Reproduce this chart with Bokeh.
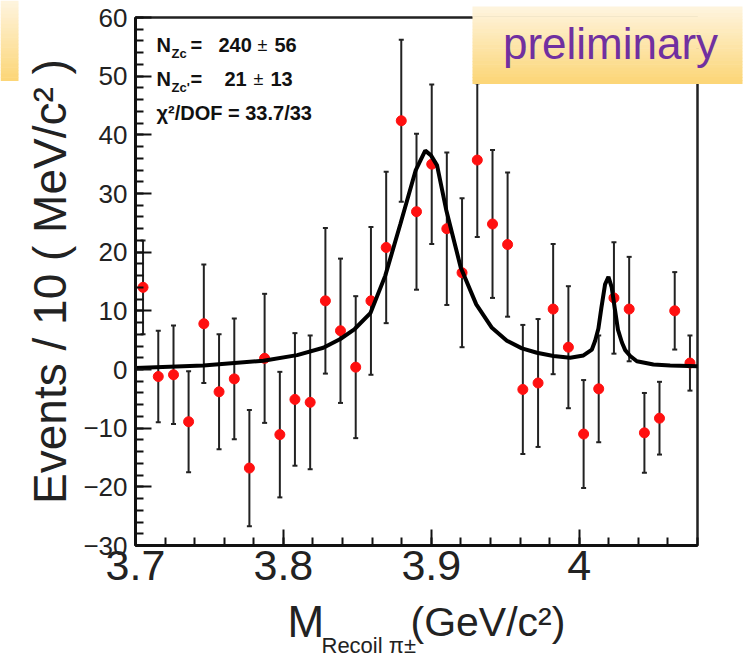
import numpy as np
from bokeh.plotting import figure
from bokeh.models import (ColumnDataSource, FixedTicker, Whisker, TeeHead, Label,
                          BoxAnnotation, Range1d)
from bokeh.embed import file_html
from bokeh.resources import INLINE

# ---------------- data ----------------
mass = [3.7051, 3.7154, 3.7257, 3.7359, 3.7462, 3.7565, 3.7668, 3.7770, 3.7873,
        3.7976, 3.8078, 3.8181, 3.8284, 3.8386, 3.8489, 3.8592, 3.8695, 3.8797,
        3.8900, 3.9003, 3.9105, 3.9208, 3.9311, 3.9414, 3.9516, 3.9619, 3.9722,
        3.9824, 3.9927, 4.0030, 4.0132, 4.0235, 4.0338, 4.0441, 4.0543, 4.0646,
        4.0749]
events = [14.0, -1.2, -0.9, -8.9, 7.8, -3.8, -1.6, -16.8, 1.9, -11.1, -5.1, -5.6,
          11.7, 6.6, 0.4, 11.7, 20.8, 42.4, 26.9, 35.0, 24.0, 16.5, 35.7, 24.8,
          21.3, -3.4, -2.3, 10.3, 3.8, -11.0, -3.3, 12.2, 10.3, -10.8, -8.3, 10.0,
          1.1]
errors = [8.0, 7.8, 8.4, 8.6, 10.1, 9.8, 10.3, 9.9, 11.0, 10.7, 11.3, 11.4, 12.4,
          12.3, 12.1, 12.6, 12.9, 13.8, 13.3, 13.6, 13.0, 12.7, 13.1, 12.6, 12.3,
          11.0, 10.9, 11.1, 10.4, 9.2, 9.1, 9.5, 8.9, 6.8, 6.2, 6.6, 4.7]

fit_mass = [3.7000, 3.7459, 3.7865, 3.8093, 3.8270, 3.8385, 3.8482, 3.8588, 3.8689,
            3.8791, 3.8895, 3.8959, 3.8998, 3.9039, 3.9101, 3.9199, 3.9304, 3.9410,
            3.9511, 3.9613, 3.9714, 3.9826, 3.9939, 4.0029, 4.0086, 4.0108, 4.0130,
            4.0150, 4.0175, 4.0198, 4.0220, 4.0240, 4.0262, 4.0289, 4.0311, 4.0345,
            4.0390, 4.0502, 4.0615, 4.0800]
fit_events = [0.25, 0.7, 1.5, 2.45, 3.7, 5.2, 6.9, 9.6, 16.0, 24.8, 34.0, 37.3, 36.5,
              34.8, 27.2, 17.4, 11.1, 7.1, 4.9, 3.6, 2.85, 2.3, 2.0, 2.4, 3.4, 4.9,
              7.0, 10.5, 14.5, 15.8, 14.0, 10.5, 6.8, 4.6, 3.3, 2.3, 1.4, 0.85, 0.7,
              0.55]

y_ticks = [-30, -20, -10, 0, 10, 20, 30, 40, 50, 60]
x_ticks = [3.7, 3.8, 3.9, 4.0]
x_tick_labels = ["3.7", "3.8", "3.9", "4"]

n_labels = [("Zc", "240", "56"), ("Zc'", "21", "13")]
chi_text = "\u03c7\u00b2/DOF = 33.7/33"

# ---------------- geometry ----------------
W, H = 751, 665
XMIN, XMAX, YMIN, YMAX = 3.7, 4.08, -30, 60
FL, FR, FT, FB = 135, 697, 17, 545     # data box edges in canvas pixels
kx = (FR - FL) / (XMAX - XMIN)
ky = (FB - FT) / (YMAX - YMIN)

p = figure(width=W, height=H,
           x_range=Range1d(XMIN - FL / kx, XMAX + (W - FR) / kx),
           y_range=Range1d(YMIN - (H - FB) / ky, YMAX + FT / ky),
           output_backend="svg", toolbar_location=None, title=None,
           min_border=0)
p.grid.visible = False
p.background_fill_color = "white"
p.border_fill_color = "white"
p.outline_line_color = None


def X(px):
    return XMIN + (px - FL) / kx


def Y(py):
    return YMAX - (py - FT) / ky


# data box outline (top / right edges)
p.quad(left=[XMIN], right=[XMAX], bottom=[YMIN], top=[YMAX], fill_color=None,
       line_color="#222222", line_width=2.5)

# axes, pinned to the data box
p.yaxis.fixed_location = XMIN
p.xaxis.fixed_location = YMIN
p.yaxis.bounds = (YMIN, YMAX)
p.xaxis.bounds = (XMIN, XMAX)
p.yaxis.ticker = FixedTicker(ticks=y_ticks, minor_ticks=list(range(-30, 61, 2)))
p.xaxis.ticker = FixedTicker(ticks=x_ticks,
                             minor_ticks=[round(3.70 + 0.02 * i, 2) for i in range(20)])
p.xaxis.major_label_overrides = dict(zip(x_ticks, x_tick_labels))
for ax in (p.xaxis[0], p.yaxis[0]):
    ax.axis_line_width = 3
    ax.axis_line_color = "#111111"
    ax.major_tick_in = 16
    ax.major_tick_out = 0
    ax.minor_tick_in = 8
    ax.minor_tick_out = 0
    ax.major_tick_line_width = 2
    ax.minor_tick_line_width = 2
    ax.major_tick_line_color = "#111111"
    ax.minor_tick_line_color = "#111111"
    ax.major_label_text_color = "#222222"

FONT = "Liberation Sans"
p.yaxis.major_label_text_font = FONT
p.yaxis.major_label_text_font_size = "26px"
p.yaxis.major_label_standoff = 8
p.yaxis.axis_label = "Events / 10 ( MeV/c\u00b2 )"
p.yaxis.axis_label_text_font = FONT
p.yaxis.axis_label_text_font_size = "46px"
p.yaxis.axis_label_text_font_style = "normal"
p.yaxis.axis_label_text_color = "#222222"
p.yaxis.axis_label_standoff = 4

p.xaxis.major_label_text_font = FONT
p.xaxis.major_label_text_font_size = "43px"
p.xaxis.major_label_standoff = 5

# data
src = ColumnDataSource(dict(x=mass, y=events,
                            lo=[v - e for v, e in zip(events, errors)],
                            hi=[v + e for v, e in zip(events, errors)]))
wh = Whisker(base="x", upper="hi", lower="lo", source=src, line_color="#222222",
             line_width=2, level="underlay",
             upper_head=TeeHead(size=5, line_width=2, line_color="#222222"),
             lower_head=TeeHead(size=5, line_width=2, line_color="#222222"))
p.add_layout(wh)
p.scatter("x", "y", source=src, size=10, color="#ff1010")
p.line(fit_mass, fit_events, line_width=4, color="black")


def txt(px, pcy, text, size, bold=False, color="#111111", align="left", level="annotation"):
    # pcy: vertical centre of the text in canvas pixels
    p.add_layout(Label(x=X(px), y=Y(pcy), text=text, text_font=FONT,
                       text_font_size=f"{size}px",
                       text_font_style="bold" if bold else "normal",
                       text_align=align, text_baseline="middle",
                       text_color=color, level=level))


# fit results
for i, (sub, val, err) in enumerate(n_labels):
    c = 44 + 34 * i
    txt(156, c, "N", 20, True)
    txt(171, c + 9, sub, 13, True)
    txt(190, c, "=", 20, True)
    txt(218 if i == 0 else 224, c, val, 20, True)
    txt(257 if i == 0 else 253, c, "\u00b1", 18)
    txt(274 if i == 0 else 270, c, err, 20, True)
txt(156, 112, chi_text, 20, True)

# x-axis title with subscript
txt(287, 621, "M", 44, color="#222222")
txt(321, 645, "Recoil \u03c0\u00b1", 22, color="#222222")
txt(410, 621, "(GeV/c\u00b2)", 41, color="#222222")


# slide decorations: gradient boxes
def grad_box(left, right, top, bottom, n=24):
    c0 = np.array([255, 245, 224])
    c1 = np.array([252, 214, 118])
    h = (bottom - top) / n
    for k in range(n):
        cc = c0 + (c1 - c0) * (k + 0.5) / n
        col = "#%02x%02x%02x" % tuple(int(v) for v in cc)
        p.add_layout(BoxAnnotation(left=X(left), right=X(right), top=Y(top + k * h),
                                   bottom=Y(top + (k + 1) * h + 0.6), fill_color=col,
                                   fill_alpha=1.0, line_alpha=0, level="overlay"))


grad_box(472, 742, 6, 83)
grad_box(0, 18, 0, 80)
txt(610, 43, "preliminary", 44, color="#7030a0", align="center", level="overlay")

open("out.html", "w").write(file_html(p, INLINE))
